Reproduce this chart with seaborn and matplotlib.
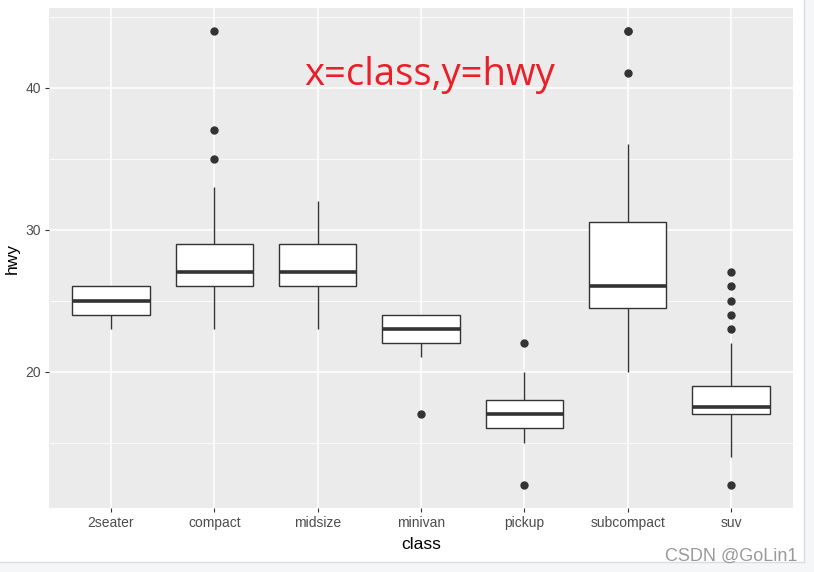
import numpy as np
import pandas as pd
import seaborn as sns
import matplotlib.pyplot as plt
from matplotlib.patches import Rectangle

# hwy values per vehicle class
classes = ["2seater", "compact", "midsize", "minivan", "pickup", "subcompact", "suv"]

hwy_2seater = [23, 24, 25, 26, 26]
hwy_compact = ([23] * 2 + [24] * 3 + [25] * 3 + [26] * 10 + [27] * 11 + [28] * 5
               + [29] * 7 + [30, 31, 33, 35, 37, 44])
hwy_midsize = ([23, 24, 24, 25, 25] + [26] * 11 + [27] * 10 + [28] * 4 + [29] * 7
               + [30, 31, 32, 32])
hwy_minivan = [17, 21, 22, 22, 22, 23, 23, 24, 24, 24, 24]
hwy_pickup = [12] + [15] * 3 + [16] * 8 + [17] * 9 + [18] * 7 + [19] * 2 + [20] * 2 + [22]
hwy_subcompact = ([20, 22, 23] + [24] * 6 + [25] * 4 + [26] * 8 + [27] * 2 + [29] * 2
                  + [30, 31, 32, 33, 33, 35, 36, 41, 44, 44])
hwy_suv = ([12] + [14] * 2 + [15] * 6 + [16] * 6 + [17] * 16 + [18] * 10 + [19] * 9
           + [20] * 3 + [21] * 2 + [22] * 2 + [23, 24, 25, 26, 27])

groups = [hwy_2seater, hwy_compact, hwy_midsize, hwy_minivan, hwy_pickup, hwy_subcompact, hwy_suv]
df = pd.DataFrame({
    "class": np.repeat(classes, [len(g) for g in groups]),
    "hwy": np.concatenate(groups),
})

sns.set_style("darkgrid", {"axes.facecolor": "#EBEBEB", "grid.color": "white"})
plt.rcParams["font.family"] = ["Liberation Sans", "DejaVu Sans"]

fig = plt.figure(figsize=(8.14, 5.72), dpi=100)
W, H = 814, 572
ax = fig.add_axes([49 / W, 1 - 508 / H, (793 - 49) / W, (508 - 8) / H])

sns.boxplot(data=df, x="class", y="hwy", order=classes, ax=ax, width=0.75,
            color="white", linecolor="#333333", linewidth=1.0,
            fliersize=5, showcaps=False,
            flierprops=dict(marker="o", markerfacecolor="#333333",
                            markeredgecolor="#333333"),
            medianprops=dict(linewidth=2.6, color="#333333"))

ax.set_xlim(-0.6, 6.6)
ax.set_ylim(10.4, 45.6)
ax.set_yticks([20, 30, 40])
ax.set_yticks([15, 25, 35, 45], minor=True)
ax.grid(True, which="major", color="white", linewidth=1.1)
ax.grid(True, which="minor", axis="y", color="white", linewidth=0.55)
for s in ax.spines.values():
    s.set_visible(False)
ax.tick_params(axis="both", which="major", colors="#333333", labelcolor="#4D4D4D",
               labelsize=10, length=3, width=0.8, pad=3, left=True, bottom=True)
ax.tick_params(axis="y", which="minor", length=0)
ax.set_axisbelow(True)
ax.set_xlabel("class", fontsize=12.5, color="black", labelpad=5)
ax.set_ylabel("hwy", fontsize=12.5, color="black", labelpad=4)

ax.text(3.08, 40.9, "x=class,y=hwy", color="#E8202A", fontsize=27.5,
        family=["Open Sans", "DejaVu Sans"], ha="center", va="center")

# screenshot frame on right and bottom
fig.patches.append(Rectangle((804 / W, 0), 10 / W, 1, transform=fig.transFigure,
                             facecolor="#F5F6F8", edgecolor="none", zorder=0))
fig.patches.append(Rectangle((0, 0), 1, 10 / H, transform=fig.transFigure,
                             facecolor="#F5F6F8", edgecolor="none", zorder=0))
fig.lines.append(plt.Line2D([803.5 / W, 803.5 / W], [10 / H, 1], transform=fig.transFigure,
                            color="#DCDCDC", linewidth=1))
fig.lines.append(plt.Line2D([0, 803.5 / W], [10 / H, 10 / H], transform=fig.transFigure,
                            color="#DCDCDC", linewidth=1))
fig.text(797 / W, 1 - 556 / H, "CSDN @GoLin1", color="#9A9A9A", fontsize=13,
         ha="right", va="center")

fig.savefig("out.png", dpi=100)
